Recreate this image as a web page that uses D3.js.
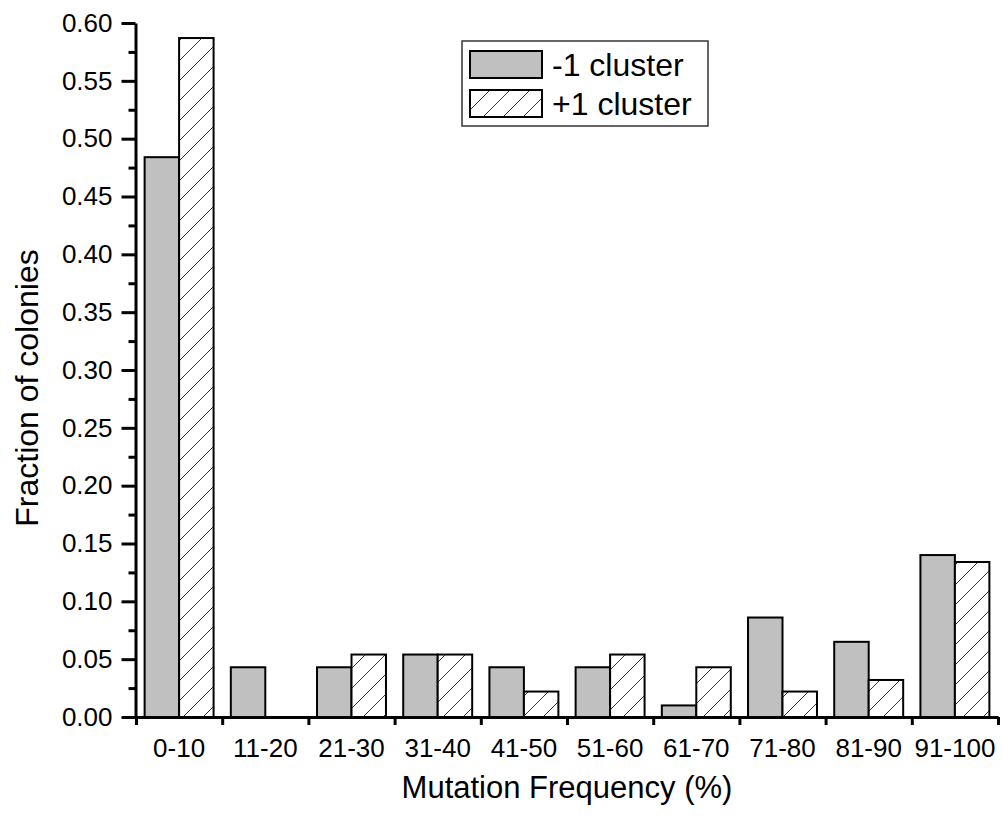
<!DOCTYPE html>
<meta charset="utf-8">
<script src="https://d3js.org/d3.v7.min.js"></script>
<style>
  body { margin: 0; background: #fff; }
  text { font-family: "Liberation Sans", Arial, sans-serif; fill: #000; }
</style>
<body>
<div id="chart"></div>
<script>
// data
var categories = ['0-10', '11-20', '21-30', '31-40', '41-50', '51-60', '61-70', '71-80', '81-90', '91-100'];
var seriesNames = ['-1 cluster', '+1 cluster'];
var minusValues = [0.484, 0.043, 0.043, 0.054, 0.043, 0.043, 0.010, 0.086, 0.065, 0.140];
var plusValues  = [0.587, 0.000, 0.054, 0.054, 0.022, 0.054, 0.043, 0.022, 0.032, 0.134];
var yTicks = [0, 0.05, 0.10, 0.15, 0.20, 0.25, 0.30, 0.35, 0.40, 0.45, 0.50, 0.55, 0.60];

var W = 1002, H = 821;
var mLeft = 136, mRight = 998, mTop = 23, mBottom = 717;

var svg = d3.select('#chart').append('svg')
    .attr('width', W).attr('height', H);

var defs = svg.append('defs');
var pat = defs.append('pattern')
    .attr('id', 'hatch')
    .attr('patternUnits', 'userSpaceOnUse')
    .attr('width', 20).attr('height', 20);
pat.append('rect').attr('width', 20).attr('height', 20).attr('fill', '#fff');
pat.append('path')
    .attr('d', 'M0,20 L20,0 M-5,5 L5,-5 M15,25 L25,15')
    .attr('stroke', '#3a3a3a').attr('stroke-width', 1);

var x = d3.scaleBand().domain(categories).range([mLeft, mRight]).padding(0);
var xs = d3.scaleBand().domain(seriesNames).range([0, x.bandwidth()])
    .paddingInner(0).paddingOuter(0.25);
var y = d3.scaleLinear().domain([0, 0.6]).range([mBottom, mTop]);

var rows = categories.map(function(c, i) {
    return [{cat: c, s: seriesNames[0], v: minusValues[i]},
            {cat: c, s: seriesNames[1], v: plusValues[i]}];
});

var fills = {'-1 cluster': '#c0c0c0', '+1 cluster': 'url(#hatch)'};

svg.append('g').selectAll('rect')
    .data(d3.merge(rows).filter(function(d) { return d.v > 0; }))
    .enter().append('rect')
    .attr('x', function(d) { return x(d.cat) + xs(d.s); })
    .attr('y', function(d) { return y(d.v); })
    .attr('width', xs.bandwidth())
    .attr('height', function(d) { return y(0) - y(d.v); })
    .attr('fill', function(d) { return fills[d.s]; })
    .attr('stroke', '#000')
    .attr('stroke-width', 2);

// y axis: major and minor ticks
svg.append('g')
    .attr('transform', 'translate(' + (mLeft - 0.5) + ',0)')
    .call(d3.axisLeft(y).tickValues(yTicks).tickFormat(d3.format('.2f'))
        .tickSize(14).tickSizeOuter(0).tickPadding(9));
var minor = d3.range(0.025, 0.6, 0.05);
svg.append('g')
    .attr('transform', 'translate(' + (mLeft - 0.5) + ',0)')
    .call(d3.axisLeft(y).tickValues(minor).tickFormat('').tickSize(7).tickSizeOuter(0))
    .select('.domain').remove();

// x axis: ticks at category boundaries, labels centred
var xb = d3.scaleLinear().domain([0, categories.length]).range([mLeft, mRight]);
svg.append('g')
    .attr('transform', 'translate(0,' + mBottom + ')')
    .call(d3.axisBottom(xb).ticks(categories.length).tickFormat('')
        .tickSize(8).tickSizeOuter(0));
svg.append('g')
    .attr('transform', 'translate(0,' + mBottom + ')')
    .call(d3.axisBottom(x).tickSize(0).tickPadding(22))
    .select('.domain').remove();

svg.selectAll('.domain, .tick line')
    .attr('stroke', '#000').attr('stroke-width', 3);
svg.selectAll('.tick text')
    .style('font-size', '26px').style('font-family', '"Liberation Sans", Arial, sans-serif');

// axis titles
svg.append('text')
    .attr('x', (mLeft + mRight) / 2).attr('y', 798)
    .attr('text-anchor', 'middle')
    .style('font-size', '31px')
    .text('Mutation Frequency (%)');
svg.append('text')
    .attr('transform', 'translate(38,388) rotate(-90)')
    .attr('text-anchor', 'middle')
    .style('font-size', '32px')
    .text('Fraction of colonies');

// legend
var lg = svg.append('g').attr('transform', 'translate(462,41)');
lg.append('rect').attr('width', 246).attr('height', 85)
    .attr('fill', '#fff').attr('stroke', '#333').attr('stroke-width', 1.5);
var items = lg.selectAll('.item').data(seriesNames).enter().append('g')
    .attr('transform', function(d, i) { return 'translate(8,' + (10 + i * 39) + ')'; });
items.append('rect').attr('width', 72).attr('height', 27)
    .attr('fill', function(d) { return fills[d]; })
    .attr('stroke', '#000').attr('stroke-width', 2);
items.append('text').attr('x', 82).attr('y', 25)
    .style('font-size', '32px')
    .text(function(d) { return d; });
</script>
</body>
